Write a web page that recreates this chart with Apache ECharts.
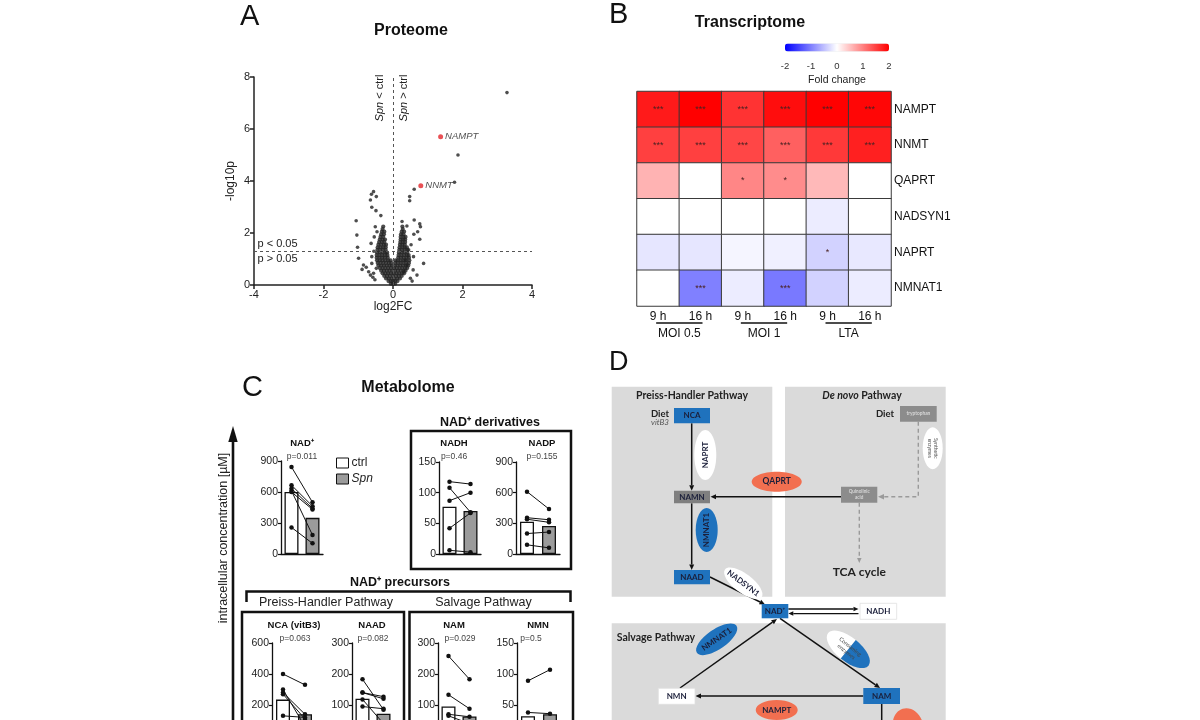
<!DOCTYPE html>
<html><head><meta charset="utf-8">
<script src="https://cdn.jsdelivr.net/npm/echarts@6/dist/echarts.min.js"></script>
<style>html,body{margin:0;padding:0;background:#fff}#c{width:1200px;height:720px}</style>
</head><body><div id="c"></div>
<script>
// ================= DATA =================
// Panel A – volcano (log2FC, -log10p)
const volcanoCoreRows = [
 [0.05,[-0.06,0,0.06]],
 [0.15,[-0.13,-0.06,0,0.06,0.13]],
 [0.25,[-0.2,-0.12,-0.04,0.04,0.12,0.2]],
 [0.35,[-0.25,-0.17,-0.09,0,0.09,0.17,0.25]],
 [0.45,[-0.3,-0.22,-0.14,-0.06,0.02,0.1,0.18,0.26,0.32]],
 [0.55,[-0.34,-0.26,-0.18,-0.1,-0.02,0.06,0.14,0.22,0.3,0.36]],
 [0.65,[-0.38,-0.3,-0.22,-0.14,-0.06,0.03,0.11,0.19,0.27,0.35,0.41]],
 [0.75,[-0.42,-0.34,-0.26,-0.18,-0.1,-0.03,0.05,0.13,0.21,0.29,0.37,0.44]],
 [0.85,[-0.44,-0.36,-0.28,-0.2,-0.12,-0.05,0.06,0.14,0.22,0.3,0.38,0.46]],
 [0.95,[-0.46,-0.38,-0.3,-0.22,-0.14,-0.07,0.07,0.14,0.22,0.3,0.38,0.47]],
 [1.05,[-0.47,-0.39,-0.31,-0.23,-0.15,0.15,0.23,0.31,0.39,0.46]],
 [1.15,[-0.47,-0.39,-0.31,-0.23,-0.16,0.16,0.24,0.32,0.4,0.45]],
 [1.25,[-0.46,-0.38,-0.3,-0.22,-0.17,0.17,0.25,0.33,0.41]],
 [1.35,[-0.45,-0.37,-0.29,-0.21,0.18,0.26,0.34,0.41]],
 [1.45,[-0.44,-0.36,-0.28,-0.21,0.19,0.27,0.34,0.4]],
 [1.55,[-0.42,-0.34,-0.26,-0.2,0.2,0.27,0.34]],
 [1.65,[-0.4,-0.32,-0.25,0.21,0.28,0.35]],
 [1.75,[-0.38,-0.3,-0.23,0.22,0.29,0.35]],
 [1.85,[-0.36,-0.28,0.22,0.3,0.36]],
 [1.95,[-0.34,-0.26,0.23,0.3]],
 [2.05,[-0.32,-0.25,0.25,0.32]],
 [2.15,[-0.3,0.28]],
 [2.25,[-0.28,0.27]]
];
const volcanoOutliers = [
 [3.28,7.4],[1.87,5.0],[1.77,3.95],
 [-0.56,3.59],[-0.62,3.49],[-0.48,3.40],[-0.65,3.27],[-0.61,2.99],[-0.49,2.86],[-0.35,2.67],
 [0.61,3.68],[0.48,3.40],[0.48,3.24],
 [-1.06,2.47],[-1.04,1.92],[-1.02,1.45],[-0.99,1.03],[-0.85,0.77],[-0.77,0.68],[-0.89,0.60],
 [-0.70,0.51],[-0.61,0.83],[-0.65,0.38],[-0.56,0.45],[-0.48,0.64],[-0.61,1.09],[-0.63,1.60],
 [-0.51,2.24],[-0.46,2.05],[-0.55,1.3],[-0.52,0.2],[-0.58,0.3],[-0.54,1.85],
 [0.26,2.44],[0.40,2.27],[0.61,2.5],[0.77,2.35],[0.79,2.24],[0.71,2.05],[0.77,1.76],[0.45,1.35],
 [0.59,1.09],[0.88,0.83],[0.58,0.58],[0.69,0.38],[0.50,0.26],[0.35,0.96],[0.40,0.77],[0.31,0.51],
 [0.52,1.55],[0.55,0.15],[0.6,1.95]
];
const volcanoHits = [['NAMPT',1.37,5.7],['NNMT',0.80,3.82]];
const volcanoPCut = 1.3;

// Panel B – transcriptome heatmap
const genes = ['NAMPT','NNMT','QAPRT','NADSYN1','NAPRT','NMNAT1'];
const timeLabels = ['9 h','16 h','9 h','16 h','9 h','16 h'];
const groupLabels = ['MOI 0.5','MOI 1','LTA'];
const foldChange = [
 [1.8, 2.0, 1.6, 1.9, 2.0, 1.95],
 [1.5, 1.5, 1.45, 1.25, 1.55, 1.75],
 [0.6, 0, 0.95, 0.9, 0.55, 0],
 [0, 0, 0, 0, -0.15, 0],
 [-0.2, -0.2, -0.08, -0.12, -0.35, -0.18],
 [0, -1.0, -0.15, -1.05, -0.35, -0.15]
];
const stars = [
 ['***','***','***','***','***','***'],
 ['***','***','***','***','***','***'],
 ['','','*','*','',''],
 ['','','','','',''],
 ['','','','','*',''],
 ['','***','','***','','']
];
const colorbarTicks = [-2,-1,0,1,2];

// Panel C – metabolome
const metNames = ['NAD⁺','NADH','NADP','NCA (vitB3)','NAAD','NAM','NMN'];
const metP = ['p=0.011','p=0.46','p=0.155','p=0.063','p=0.082','p=0.029','p=0.5'];
const metMax = [900,150,900,600,300,300,150];
const metInterval = [300,50,300,200,100,100,50];
const ctrlMean = [600,77,315,235,120,95,32];
const spnMean = [350,70,275,140,72,63,35];
const metPairs = [
 [[842,500],[666,463],[634,441],[611,183],[600,431],[257,103]],
 [[118,114],[108,68],[87,100],[42,67],[6,3]],
 [[610,440],[355,335],[340,310],[200,215],[90,60]],
 [[400,330],[300,60],[280,140],[270,110],[130,120],[40,30]],
 [[183,85],[140,127],[140,120],[118,40],[95,88]],
 [[258,183],[133,88],[70,62],[65,40],[30,20]],
 [[89,107],[38,36],[20,15],[10,12]]
];

// ================= LAYOUT / STYLE =================
const F = "'Liberation Sans', Arial, sans-serif";
const FD = "Lato, 'Open Sans', sans-serif";
const metGrid = [[281,461,42,93],[439,462,42,92],[516,462,44,92],[272,643,44,93],[352,643,42,93],[438,643,42,93],[517,643,44,93]];
const metLabelPos = [[302,443,302,457],[454,443,454,457],[542,443,542,457],[294,625,295,639],[372,625,373,639],[454,625,460,639],[538,625,531,639]];
const HM = {left:637, top:91.5, width:254, height:214.5, outerBoundsMode:'none'};

const graphics = [];
function txt(x, y, text, style, rot) {
  graphics.push({type:'text', x:x, y:y, rotation:rot||0, silent:true,
    style:Object.assign({text:text, fontFamily:F, fontSize:12, fill:'#111', align:'center', verticalAlign:'middle'}, style||{})});
}
function line(x1,y1,x2,y2,color,w,dash){
  graphics.push({type:'line', silent:true, shape:{x1:x1,y1:y1,x2:x2,y2:y2}, style:{stroke:color||'#111', lineWidth:w||1.5, lineDash:dash||null}});
}
function arrow(x1,y1,x2,y2,color,w,dash,head){
  color = color||'#111'; head = head||5.5;
  const a = Math.atan2(y2-y1,x2-x1);
  const hx = x2-head*Math.cos(a), hy = y2-head*Math.sin(a);
  const px = Math.sin(a)*head*0.45, py = -Math.cos(a)*head*0.45;
  line(x1,y1,hx,hy,color,w,dash);
  graphics.push({type:'polygon', silent:true, shape:{points:[[x2,y2],[hx+px,hy+py],[hx-px,hy-py]]}, style:{fill:color}});
}
function rect(x1,y1,x2,y2,fill,stroke,w){
  graphics.push({type:'rect', silent:true, shape:{x:x1,y:y1,width:x2-x1,height:y2-y1}, style:{fill:fill||'none', stroke:stroke||null, lineWidth:w||0}});
}

// ---- Panel A annotations ----
txt(240, 17, 'A', {fontSize:29, align:'left'});
txt(411, 31, 'Proteome', {fontSize:16, fontWeight:'bold'});
txt(380, 98, '{i|Spn} < ctrl', {fontSize:11, fill:'#222', rich:{i:{fontStyle:'italic', fontSize:11, fontFamily:F, fill:'#222'}}}, Math.PI/2);
txt(403.5, 98, '{i|Spn} > ctrl', {fontSize:11, fill:'#222', rich:{i:{fontStyle:'italic', fontSize:11, fontFamily:F, fill:'#222'}}}, Math.PI/2);
txt(257.5, 244, 'p < 0.05', {fontSize:11, align:'left', fill:'#222'});
txt(257.5, 259, 'p > 0.05', {fontSize:11, align:'left', fill:'#222'});

// ---- Panel B annotations ----
txt(609, 15, 'B', {fontSize:29, align:'left'});
txt(750, 22.5, 'Transcriptome', {fontSize:16, fontWeight:'bold'});
colorbarTicks.forEach(function(v){ txt(785 + (v+2)/4*104, 66, String(v), {fontSize:9.5, fill:'#333'}); });
txt(837, 80, 'Fold change', {fontSize:10.5, fill:'#222'});
groupLabels.forEach(function(g, i){
  const cw = HM.width/6;
  const c1 = HM.left + cw*(2*i+0.5), c2 = HM.left + cw*(2*i+1.5);
  line(c1-2, 323, c2+2, 323, '#111', 1.6);
  txt((c1+c2)/2, 333.5, g, {fontSize:12});
});

// ---- Panel C annotations ----
txt(242, 388, 'C', {fontSize:29, align:'left'});
txt(408, 388, 'Metabolome', {fontSize:16, fontWeight:'bold'});
line(233, 720, 233, 440, '#111', 2.6);
graphics.push({type:'polygon', silent:true, shape:{points:[[233,426],[228.3,442],[237.7,442]]}, style:{fill:'#111'}});
txt(223.5, 538, 'intracellular concentration [µM]', {fontSize:12.5, fill:'#222'}, Math.PI/2);
rect(411, 431, 571, 569, 'none', '#111', 2.5);
txt(490, 423, 'NAD⁺ derivatives', {fontSize:12.5, fontWeight:'bold'});
txt(400, 583, 'NAD⁺ precursors', {fontSize:12.5, fontWeight:'bold'});
graphics.push({type:'polyline', silent:true, shape:{points:[[246.5,602],[246.5,591.5],[570.5,591.5],[570.5,602]]}, style:{stroke:'#111', lineWidth:2.5, fill:null}});
txt(326, 602.5, 'Preiss-Handler Pathway', {fontSize:12.5, fill:'#222'});
txt(483.5, 602.5, 'Salvage Pathway', {fontSize:12.5, fill:'#222'});
rect(242, 612, 404, 740, 'none', '#111', 2.5);
rect(409.5, 612, 573, 740, 'none', '#111', 2.5);
metNames.forEach(function(n, i){
  const p = metLabelPos[i];
  txt(p[0], p[1], n, {fontSize:9.5, fontWeight:'bold'});
  txt(p[2], p[3], metP[i], {fontSize:8.5, fill:'#444'});
});

// ---- Panel D (pathway diagram) ----
const BLUE = '#1f72bd', SALMON = '#f26f50', BG = '#dadada', NODEG = '#7f7f7f', DT = '#1b1f3a';
txt(609, 362.5, 'D', {fontSize:27, align:'left'});
rect(611.7, 386.7, 772.3, 596.7, BG);
rect(785, 386.7, 945.7, 596.7, BG);
rect(611.7, 623.3, 945.7, 740, BG);
txt(692, 396, 'Preiss-Handler Pathway', {fontFamily:FD, fontSize:10.5, fontWeight:'bold', fill:'#222'});
txt(862, 396, '{i|De novo} Pathway', {fontFamily:FD, fontSize:10.5, fontWeight:'bold', fill:'#222', rich:{i:{fontFamily:FD, fontSize:10.5, fontWeight:'bold', fontStyle:'italic', fill:'#222'}}});
txt(616.7, 637.7, 'Salvage Pathway', {fontFamily:FD, fontSize:10.5, fontWeight:'bold', fill:'#222', align:'left'});
txt(660, 414, 'Diet', {fontFamily:FD, fontSize:9.5, fontWeight:'bold', fill:'#222'});
txt(660, 422.5, 'vitB3', {fontFamily:FD, fontSize:8, fontStyle:'italic', fill:'#555'});
txt(885, 414, 'Diet', {fontFamily:FD, fontSize:9.5, fontWeight:'bold', fill:'#222'});
// arrows
arrow(691.7, 423.3, 691.7, 490.7);
arrow(841, 496.7, 710.5, 496.7);
arrow(691.7, 503.3, 691.7, 570);
arrow(710, 577, 765, 604.5);
arrow(788.3, 609, 858.5, 609, '#111', 1.4, null, 5);
arrow(858.5, 613.6, 788.3, 613.6, '#111', 1.4, null, 5);
arrow(680, 688, 777, 619);
arrow(780, 618.3, 880, 688);
arrow(863.3, 696, 695.5, 696);
line(881.7, 704, 881.7, 725, '#111', 1.5);
// dashed de novo path
graphics.push({type:'polyline', silent:true, shape:{points:[[918.3,421.7],[918.3,496.7],[884,496.7]]}, style:{stroke:'#9a9a9a', lineWidth:1.4, lineDash:[4,3], fill:null}});
graphics.push({type:'polygon', silent:true, shape:{points:[[878,496.7],[884,493.9],[884,499.5]]}, style:{fill:'#9a9a9a'}});
arrow(859.3, 502.7, 859.3, 563, '#9a9a9a', 1.4, [4,3], 5);
txt(859.3, 572, 'TCA cycle', {fontFamily:FD, fontSize:12, fontWeight:'bold', fill:'#222'});
// nodes
function node(x1,y1,x2,y2,fill,label,color,fs,stroke){
  rect(x1,y1,x2,y2,fill,stroke||null,stroke?0.8:0);
  txt((x1+x2)/2,(y1+y2)/2,label,{fontFamily:FD, fontSize:fs||8, fontWeight:'bold', fill:color||DT, lineHeight:(fs||8)+1});
}
node(674,408,710,423.3,BLUE,'NCA');
node(674,490.7,710,503.3,NODEG,'NAMN');
node(674,570,710,584.3,BLUE,'NAAD');
node(761.7,604,788.3,618.3,BLUE,'NAD⁺');
node(860,603.3,896.7,619.3,'#ffffff','NADH',DT,8,'#e0e0e0');
node(658.3,688.3,695,704.3,'#ffffff','NMN',DT,8,'#e0e0e0');
node(863.3,688,900,704,BLUE,'NAM');
node(841,486.7,877.3,502.7,'#8c8c8c','Quinolinic\nacid','#d8d8d8',4.6);
node(900,406,936.7,421.7,'#8c8c8c','tryptophan','#d8d8d8',4.8);
// ellipses
function ell(cx,cy,rx,ry,rot,fill,label,color,fs,fw){
  graphics.push({type:'group', x:cx, y:cy, rotation:rot, silent:true, children:[
    {type:'ellipse', shape:{cx:0,cy:0,rx:rx,ry:ry}, style:{fill:fill}},
    {type:'text', style:{text:label, x:0, y:0, align:'center', verticalAlign:'middle', fontFamily:FD, fontWeight:fw||'bold', fontSize:fs||8, fill:color||DT, lineHeight:(fs||8)+1}}
  ]});
}
ell(705.3,455,25,11,Math.PI/2,'#ffffff','NAPRT');
ell(776.7,481.7,25,10,0,SALMON,'QAPRT',DT,8.5);
ell(706.7,530,22,11,Math.PI/2,BLUE,'NMNAT1');
ell(932.7,448.3,21,10,-Math.PI/2,'#ffffff','Synthetic\nenzymes','#555',5,'normal');
ell(743.3,583.3,23,9.5,-0.65,'#ffffff','NADSYN1');
ell(716.7,639.3,24,10,0.6,BLUE,'NMNAT1');
ell(776.7,710,21,10,0,SALMON,'NAMPT');
ell(908,726,15,18,0.3,SALMON,'');
graphics.push({type:'group', x:848.3, y:649.3, rotation:-0.68, silent:true, children:[
  {type:'group', scaleY:0.46, children:[
    {type:'sector', shape:{cx:0,cy:0,r:26,startAngle:Math.PI/2,endAngle:Math.PI*1.5}, style:{fill:'#ffffff'}},
    {type:'sector', shape:{cx:0,cy:0,r:26,startAngle:-Math.PI/2,endAngle:Math.PI/2}, style:{fill:BLUE}}
  ]},
  {type:'text', style:{text:'Consuming\nenzymes', x:0, y:0, align:'center', verticalAlign:'middle', fontFamily:FD, fontSize:5.5, fill:'#444', lineHeight:6.5}}
]});

// ================= SERIES =================
const volcanoCore = [];
volcanoCoreRows.forEach(function(r){ r[1].forEach(function(x){ volcanoCore.push([x, r[0]]); }); });

const heatData = [];
foldChange.forEach(function(row, yi){ row.forEach(function(v, xi){ heatData.push([xi, yi, v]); }); });

const xAxes = [], yAxes = [], grids = [], series = [];
grids.push({left:254, top:77, width:278, height:208, outerBoundsMode:'none'});
xAxes.push({type:'value', gridIndex:0, min:-4, max:4, interval:2,
  axisLine:{onZero:false, lineStyle:{color:'#222', width:1.5}}, axisTick:{length:4, lineStyle:{color:'#222', width:1.5}},
  axisLabel:{fontSize:11, color:'#222', margin:4, fontFamily:F}, splitLine:{show:false},
  name:'log2FC', nameLocation:'middle', nameGap:15, nameTextStyle:{fontSize:12, color:'#222', fontFamily:F}});
yAxes.push({type:'value', gridIndex:0, min:0, max:8, interval:2,
  axisLine:{show:true, onZero:false, lineStyle:{color:'#222', width:1.5}}, axisTick:{show:true, length:4, lineStyle:{color:'#222', width:1.5}},
  axisLabel:{fontSize:11, color:'#222', margin:4, fontFamily:F}, splitLine:{show:false},
  name:'-log10p', nameLocation:'middle', nameGap:17, nameRotate:90, nameTextStyle:{fontSize:12, color:'#222', fontFamily:F}});
series.push({type:'scatter', xAxisIndex:0, yAxisIndex:0, data:volcanoCore, symbolSize:4.2, itemStyle:{color:'#222'}, silent:true,
  markLine:{silent:true, symbol:['none','none'], label:{show:false}, lineStyle:{type:[3,3], color:'#555', width:1},
    data:[{yAxis:volcanoPCut},{xAxis:0}]}});
series.push({type:'scatter', xAxisIndex:0, yAxisIndex:0, data:volcanoOutliers, symbolSize:3.6, itemStyle:{color:'#222'}, silent:true});
series.push({type:'scatter', xAxisIndex:0, yAxisIndex:0, symbolSize:5, itemStyle:{color:'#e3262b'}, silent:true,
  data:volcanoHits.map(function(h){ return {name:h[0], value:[h[1],h[2]]}; }),
  label:{show:true, position:'right', distance:2, formatter:'{b}', fontSize:9.5, fontStyle:'italic', color:'#222', fontFamily:F}});

// heatmap
grids.push(HM);
xAxes.push({type:'category', gridIndex:1, data:timeLabels, axisLine:{show:false}, axisTick:{show:false},
  axisLabel:{fontSize:12, color:'#111', margin:5, fontFamily:F}, splitLine:{show:false}});
yAxes.push({type:'category', gridIndex:1, data:genes, inverse:true, position:'right', axisLine:{show:false}, axisTick:{show:false},
  axisLabel:{fontSize:12, color:'#111', margin:3, fontFamily:F}, splitLine:{show:false}});
const heatSeriesIndex = series.length;
series.push({type:'heatmap', xAxisIndex:1, yAxisIndex:1, data:heatData, silent:true,
  itemStyle:{borderColor:'#3a3a3a', borderWidth:1},
  label:{show:true, fontSize:9, color:'#4a2222', fontFamily:F, formatter:function(p){ return stars[p.data[1]][p.data[0]]; }}});

// metabolome small charts
metNames.forEach(function(n, i){
  const g = grids.length;
  const L = metGrid[i];
  grids.push({left:L[0], top:L[1], width:L[2], height:L[3], outerBoundsMode:'none'});
  xAxes.push({type:'category', gridIndex:g, data:['ctrl','Spn'], boundaryGap:true,
    axisLine:{lineStyle:{color:'#111', width:1.3}}, axisTick:{show:false}, axisLabel:{show:false}, splitLine:{show:false}});
  yAxes.push({type:'value', gridIndex:g, min:0, max:metMax[i], interval:metInterval[i],
    axisLine:{show:true, onZero:false, lineStyle:{color:'#111', width:1.3}}, axisTick:{show:true, length:3, lineStyle:{color:'#111', width:1.2}},
    axisLabel:{fontSize:10.5, color:'#222', margin:3, fontFamily:F}, splitLine:{show:false}});
  series.push({type:'bar', name:'ctrl', xAxisIndex:g, yAxisIndex:g, data:[ctrlMean[i],'-'], barWidth:14, barGap:'-100%', silent:true,
    itemStyle:{color:'#ffffff', borderColor:'#111', borderWidth:1.3}});
  series.push({type:'bar', name:'Spn', xAxisIndex:g, yAxisIndex:g, data:['-',spnMean[i]], barWidth:14, barGap:'-100%', silent:true,
    itemStyle:{color:'#9b9b9b', borderColor:'#111', borderWidth:1.3}});
  metPairs[i].forEach(function(pr){
    series.push({type:'line', xAxisIndex:g, yAxisIndex:g, data:pr, symbol:'circle', symbolSize:4.5, showSymbol:true, silent:true, z:5,
      itemStyle:{color:'#111'}, lineStyle:{color:'#111', width:1}, animation:false});
  });
});

const option = {
  animation:false,
  backgroundColor:'#ffffff',
  grid:grids, xAxis:xAxes, yAxis:yAxes, series:series,
  visualMap:{type:'continuous', min:-2, max:2, orient:'horizontal', left:785, top:43.5, itemWidth:8, itemHeight:104,
    calculable:false, hoverLink:false, padding:0, seriesIndex:heatSeriesIndex, dimension:2,
    inRange:{color:['#0000ff','#ffffff','#ff0000']}, textStyle:{fontSize:1, color:'rgba(0,0,0,0)'}},
  legend:{left:336, top:457, orient:'vertical', itemWidth:12, itemHeight:10, itemGap:4, padding:0, selectedMode:false, icon:'rect',
    itemStyle:{borderColor:'#111', borderWidth:1},
    data:[{name:'ctrl'},{name:'Spn', textStyle:{fontStyle:'italic'}}],
    textStyle:{fontSize:12, color:'#222', fontFamily:F, padding:[0,0,0,-2]}},
  graphic:{elements:graphics}
};
const chart = echarts.init(document.getElementById('c'), null, {renderer:'canvas'});
chart.setOption(option);
</script>
</body></html>
